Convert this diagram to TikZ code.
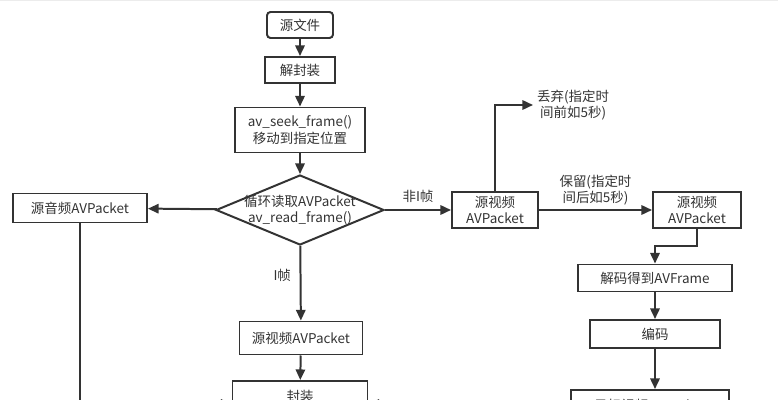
\documentclass[tikz,border=0pt]{standalone}
\usepackage{fontspec}
\setmainfont{Noto Sans CJK SC}
\usetikzlibrary{arrows.meta,positioning,shapes.geometric}
\definecolor{ink}{HTML}{333333}

\begin{document}
\begin{tikzpicture}[x=0.03cm, y=-0.03cm, >={Triangle[length=9pt,width=8pt]},
  box/.style={draw=ink, line width=1.7pt, rectangle, inner sep=0pt, align=center, font=\fontsize{11.5}{14}\selectfont, text=ink},
  flow/.style={->, draw=ink, line width=1.7pt},
  lbl/.style={font=\fontsize{11.5}{14}\selectfont, text=ink, align=center}]
  \useasboundingbox (0,0) rectangle (778,400);
  \clip (0,0) rectangle (778,400);
  % grid background
  \draw[gray!15, line width=0.4pt, step=0.39cm] (0,0) grid (778,-400);

  % main column
  \node[box, rounded corners=3pt, minimum width=66*0.03cm, minimum height=26*0.03cm] (src) at (300,25) {源文件};
  \node[box, minimum width=70*0.03cm, minimum height=26*0.03cm] (demux) at (300,70) {解封装};
  \node[box, minimum width=130*0.03cm, minimum height=45*0.03cm] (seek) at (300,130) {av\_seek\_frame()\\移动到指定位置};
  \node[box, diamond, aspect=2.4, inner sep=-5pt, minimum width=168*0.03cm, minimum height=70*0.03cm] (read) at (300,210) {循环读取AVPacket\\av\_read\_frame()};
  \node[box, minimum width=134*0.03cm, minimum height=29*0.03cm] (audio) at (80,208) {源音频AVPacket};
  \node[box, minimum width=123*0.03cm, minimum height=33*0.03cm] (ipkt) at (301,338) {源视频AVPacket};
  \node[box, minimum width=135*0.03cm, minimum height=30*0.03cm] (mux) at (300,396) {封装};

  % non-I frame branch
  \node[box, minimum width=86*0.03cm, minimum height=36*0.03cm] (vpkt) at (495,210) {源视频\\AVPacket};
  \node[box, minimum width=88*0.03cm, minimum height=36*0.03cm] (keep) at (697,210) {源视频\\AVPacket};
  \node[box, minimum width=154*0.03cm, minimum height=27*0.03cm] (dec) at (655,278) {解码得到AVFrame};
  \node[box, minimum width=130*0.03cm, minimum height=28*0.03cm] (enc) at (655,334) {编码};
  \node[box, minimum width=158*0.03cm, minimum height=30*0.03cm] (dst) at (650,405) {目标视频AVPacket};
  \coordinate (drop) at (533,105);

  % connectors
  \draw[flow] (src) -- (demux);
  \draw[flow] (demux) -- (seek);
  \draw[flow] (seek) -- (read);
  \draw[flow] (read) -- (audio);
  \draw[flow] (read) -- node[lbl, above=2pt] {非I帧} (vpkt);
  \draw[flow] (read) -- node[lbl, left=4pt, pos=0.4] {I帧} (ipkt);
  \draw[flow] (ipkt) -- (mux);
  \draw[flow] (vpkt.north) |- (drop);
  \node[lbl, anchor=west] at (drop) {丢弃(指定时\\间前如5秒)};
  \draw[flow] (vpkt) -- node[lbl, above=0pt] {保留(指定时\\间后如5秒)} (keep);
  \draw[flow] (keep.south) -- ++(0,17) -| (dec.north);
  \draw[flow] (dec) -- (enc);
  \draw[flow] (enc.south) -- (enc.south |- dst.north);
  \draw[flow] (audio.south) |- (mux.west |- 0,404);
  \draw[flow] (dst.west |- 0,404) -- (mux.east |- 0,404);
\end{tikzpicture}
\end{document}
